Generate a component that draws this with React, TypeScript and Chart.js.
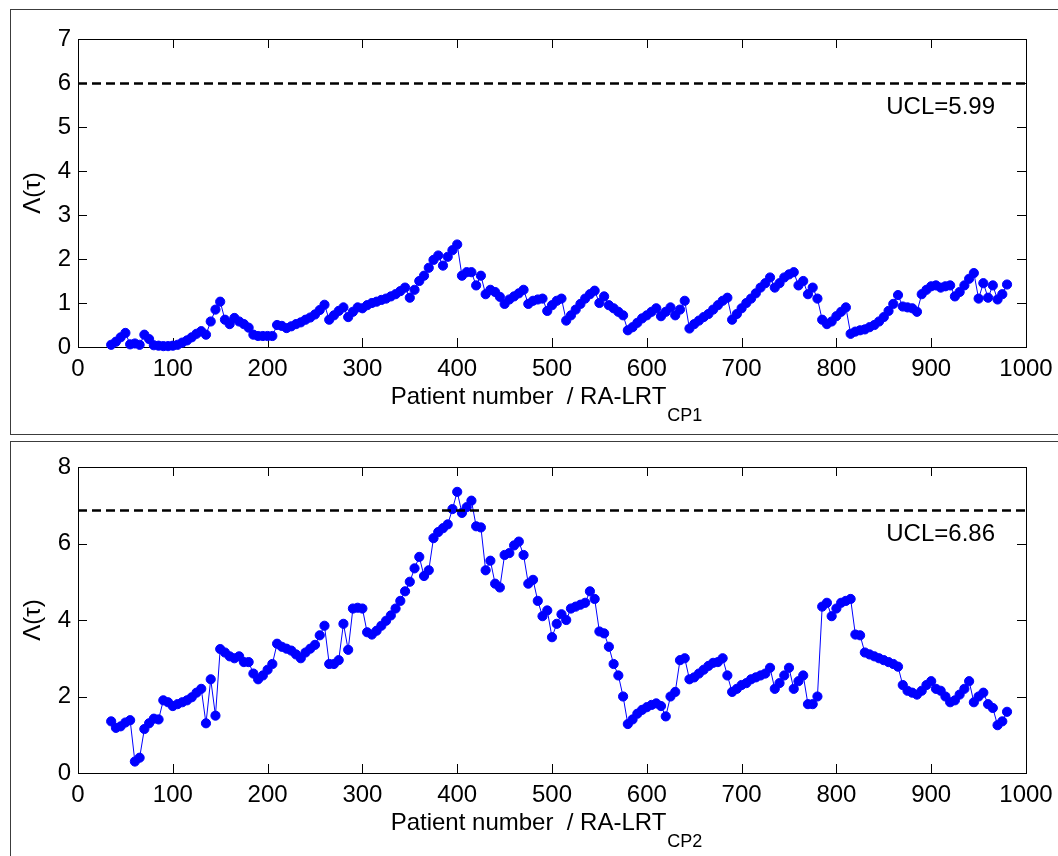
import React, { useEffect, useRef } from "react";
import { Chart, registerables } from "chart.js";

Chart.register(...registerables);

// Patient numbers: first plotted patient and spacing of read-off samples
const PATIENT_START = 35;
const PATIENT_STEP = 5;

// Λ(τ) for RA-LRT CP1 (top panel), patients 35..980 every 5
const LAMBDA_CP1 = [
  0.05, 0.12, 0.22, 0.32, 0.06, 0.08, 0.05, 0.28, 0.18, 0.04,
  0.03, 0.02, 0.02, 0.03, 0.05, 0.10, 0.15, 0.22, 0.30, 0.36,
  0.28, 0.58, 0.85, 1.03, 0.62, 0.52, 0.66, 0.58, 0.52, 0.44,
  0.28, 0.25, 0.25, 0.25, 0.25, 0.50, 0.48, 0.43, 0.47, 0.52,
  0.56, 0.62, 0.67, 0.74, 0.84, 0.96, 0.62, 0.72, 0.82, 0.90,
  0.68, 0.80, 0.90, 0.88, 0.95, 1.00, 1.03, 1.07, 1.10, 1.15,
  1.20, 1.27, 1.35, 1.12, 1.30, 1.50, 1.62, 1.80, 1.98, 2.08,
  1.85, 2.05, 2.20, 2.33, 1.62, 1.70, 1.70, 1.40, 1.62, 1.20,
  1.30, 1.25, 1.14, 0.98, 1.08, 1.15, 1.22, 1.30, 0.98, 1.05,
  1.08, 1.10, 0.82, 0.95, 1.05, 1.10, 0.60, 0.72, 0.85, 0.98,
  1.10, 1.20, 1.28, 1.00, 1.15, 0.95, 0.88, 0.80, 0.72, 0.38,
  0.45, 0.55, 0.65, 0.72, 0.80, 0.88, 0.70, 0.80, 0.90, 0.72,
  0.85, 1.05, 0.42, 0.52, 0.60, 0.68, 0.75, 0.85, 0.95, 1.05,
  1.12, 0.62, 0.75, 0.88, 1.00, 1.10, 1.22, 1.35, 1.45, 1.58,
  1.35, 1.45, 1.58, 1.65, 1.70, 1.40, 1.50, 1.20, 1.35, 1.10,
  0.62, 0.52, 0.58, 0.70, 0.80, 0.90, 0.30, 0.35, 0.38, 0.40,
  0.45, 0.50, 0.58, 0.68, 0.82, 0.98, 1.18, 0.92, 0.90, 0.88,
  0.80, 1.20, 1.30, 1.38, 1.40, 1.35, 1.38, 1.40, 1.15, 1.25,
  1.40, 1.55, 1.68, 1.10, 1.45, 1.12, 1.40, 1.08, 1.20, 1.42,
];

// Λ(τ) for RA-LRT CP2 (bottom panel), patients 35..980 every 5
const LAMBDA_CP2 = [
  1.35, 1.18, 1.22, 1.32, 1.38, 0.30, 0.40, 1.15, 1.30, 1.42,
  1.40, 1.90, 1.85, 1.75, 1.80, 1.85, 1.90, 1.98, 2.10, 2.20,
  1.30, 2.45, 1.50, 3.24, 3.15, 3.05, 3.00, 3.05, 2.90, 2.90,
  2.60, 2.45, 2.55, 2.70, 2.85, 3.38, 3.30, 3.25, 3.20, 3.10,
  3.00, 3.15, 3.25, 3.35, 3.60, 3.85, 2.85, 2.85, 2.95, 3.90,
  3.22, 4.30, 4.32, 4.30, 3.68, 3.62, 3.72, 3.85, 3.98, 4.12,
  4.30, 4.50, 4.75, 5.00, 5.35, 5.65, 5.15, 5.30, 6.14, 6.30,
  6.40, 6.50, 6.90, 7.35, 6.80, 6.95, 7.12, 6.45, 6.42, 5.30,
  5.55, 4.95, 4.85, 5.70, 5.75, 5.95, 6.05, 5.70, 4.95, 5.05,
  4.50, 4.10, 4.25, 3.55, 3.90, 4.15, 4.00, 4.30, 4.35, 4.40,
  4.45, 4.75, 4.55, 3.70, 3.65, 3.30, 2.85, 2.55, 2.00, 1.28,
  1.40, 1.55, 1.65, 1.72, 1.78, 1.82, 1.75, 1.48, 2.00, 2.12,
  2.95, 3.00, 2.45, 2.50, 2.60, 2.70, 2.80, 2.88, 2.90, 3.00,
  2.55, 2.12, 2.20, 2.30, 2.35, 2.45, 2.50, 2.55, 2.60, 2.75,
  2.20, 2.35, 2.55, 2.75, 2.20, 2.40, 2.55, 1.80, 1.80, 2.00,
  4.35, 4.45, 4.10, 4.30, 4.45, 4.50, 4.55, 3.62, 3.60, 3.15,
  3.10, 3.05, 3.00, 2.95, 2.90, 2.85, 2.78, 2.30, 2.15, 2.10,
  2.05, 2.15, 2.30, 2.40, 2.20, 2.15, 2.00, 1.85, 1.90, 2.05,
  2.20, 2.40, 1.85, 2.00, 2.10, 1.80, 1.70, 1.25, 1.35, 1.60,
];

const UCL_CP1 = 5.99;
const UCL_CP2 = 6.86;
const UCL_LABEL_CP1 = "UCL=5.99";
const UCL_LABEL_CP2 = "UCL=6.86";

const X_TICKS = [0, 100, 200, 300, 400, 500, 600, 700, 800, 900, 1000];
const Y_TICKS_CP1 = [0, 1, 2, 3, 4, 5, 6, 7];
const Y_TICKS_CP2 = [0, 2, 4, 6, 8];

const X_TITLE = "Patient number  / RA-LRT";
const X_SUB_CP1 = "CP1";
const X_SUB_CP2 = "CP2";
const Y_TITLE = "Λ(τ)";

const FONT = "'Liberation Sans', Arial, Helvetica, sans-serif";

type PanelProps = {
  values: number[];
  ucl: number;
  uclLabel: string;
  yTicks: number[];
  sub: string;
  width: number;
  height: number;
  padTop: number;
  padRight: number;
  yAxisWidth: number;
  xAxisHeight: number;
};

function Panel(p: PanelProps) {
  const ref = useRef<HTMLCanvasElement | null>(null);
  useEffect(() => {
    if (!ref.current) return;
    const pts = p.values.map((v, i) => ({ x: PATIENT_START + i * PATIENT_STEP, y: v }));
    const yMax = p.yTicks[p.yTicks.length - 1];
    const decor = {
      id: "decor",
      beforeDatasetsDraw(chart: any) {
        const { ctx, chartArea: a, scales } = chart;
        ctx.save();
        ctx.strokeStyle = "#000";
        ctx.lineWidth = 1;
        ctx.strokeRect(Math.round(a.left) + 0.5, Math.round(a.top) + 0.5, Math.round(a.right - a.left), Math.round(a.bottom - a.top));
        const tl = 9;
        ctx.beginPath();
        for (const v of X_TICKS) {
          const x = Math.round(scales.x.getPixelForValue(v)) + 0.5;
          ctx.moveTo(x, a.bottom);
          ctx.lineTo(x, a.bottom - tl);
          ctx.moveTo(x, a.top);
          ctx.lineTo(x, a.top + tl);
        }
        for (const v of p.yTicks) {
          const y = Math.round(scales.y.getPixelForValue(v)) + 0.5;
          ctx.moveTo(a.left, y);
          ctx.lineTo(a.left + tl, y);
          ctx.moveTo(a.right, y);
          ctx.lineTo(a.right - tl, y);
        }
        ctx.stroke();
        ctx.restore();
      },
      afterDraw(chart: any) {
        const { ctx, chartArea: a, scales } = chart;
        ctx.save();
        ctx.fillStyle = "#000";
        // UCL label
        ctx.font = `24px ${FONT}`;
        ctx.textAlign = "right";
        ctx.textBaseline = "middle";
        ctx.fillText(p.uclLabel, a.right - 31, scales.y.getPixelForValue(p.ucl) + 24);
        // x title with subscript
        ctx.textAlign = "left";
        ctx.textBaseline = "alphabetic";
        ctx.font = `24px ${FONT}`;
        const w1 = ctx.measureText(X_TITLE).width;
        ctx.font = `18px ${FONT}`;
        const w2 = ctx.measureText(p.sub).width;
        const cx = (a.left + a.right) / 2 - 6;
        const x0 = cx - (w1 + w2) / 2;
        ctx.font = `24px ${FONT}`;
        ctx.fillText(X_TITLE, x0, a.bottom + 57);
        ctx.font = `18px ${FONT}`;
        ctx.fillText(p.sub, x0 + w1 + 1, a.bottom + 74);
        // y title
        ctx.translate(22, (a.top + a.bottom) / 2);
        ctx.rotate(-Math.PI / 2);
        ctx.font = `24px ${FONT}`;
        ctx.textAlign = "center";
        ctx.textBaseline = "middle";
        ctx.fillText(Y_TITLE, 0, 0);
        ctx.restore();
      },
    };
    const chart = new Chart(ref.current, {
      type: "line",
      data: {
        datasets: [
          {
            data: pts,
            borderColor: "#0000ff",
            backgroundColor: "#0000ff",
            borderWidth: 1,
            pointRadius: 4.6,
            pointBorderWidth: 1,
            pointBorderColor: "#0000ff",
            pointBackgroundColor: "#0000ff",
            clip: false,
            order: 1,
          } as any,
          {
            data: [
              { x: 0, y: p.ucl },
              { x: 1000, y: p.ucl },
            ],
            borderColor: "#000",
            borderWidth: 2.5,
            borderDash: [9, 5],
            pointRadius: 0,
            order: 0,
          } as any,
        ],
      },
      options: {
        animation: false,
        responsive: false,
        maintainAspectRatio: false,
        devicePixelRatio: 1,
        events: [],
        layout: { padding: { left: 0, top: p.padTop, right: p.padRight, bottom: 0 } },
        plugins: { legend: { display: false }, tooltip: { enabled: false } },
        scales: {
          x: {
            type: "linear",
            min: 0,
            max: 1000,
            afterBuildTicks: (s: any) => {
              s.ticks = X_TICKS.map((v) => ({ value: v }));
            },
            afterFit: (s: any) => {
              s.height = p.xAxisHeight;
              s.paddingLeft = 0;
              s.paddingRight = 0;
            },
            grid: { display: false, drawTicks: false },
            border: { display: false },
            ticks: {
              color: "#000",
              font: { family: FONT, size: 24 },
              padding: 8,
              maxRotation: 0,
              autoSkip: false,
              callback: (v: any) => String(v),
            },
          },
          y: {
            type: "linear",
            min: 0,
            max: yMax,
            afterBuildTicks: (s: any) => {
              s.ticks = p.yTicks.map((v) => ({ value: v }));
            },
            afterFit: (s: any) => {
              s.width = p.yAxisWidth;
              s.paddingTop = 0;
              s.paddingBottom = 0;
            },
            grid: { display: false, drawTicks: false },
            border: { display: false },
            ticks: {
              color: "#000",
              font: { family: FONT, size: 24 },
              padding: 7,
              autoSkip: false,
              callback: (v: any) => String(v),
            },
          },
        },
      } as any,
      plugins: [decor],
    });
    return () => chart.destroy();
  }, []);
  return <canvas ref={ref} width={p.width} height={p.height} style={{ width: p.width, height: p.height, display: "block" }} />;
}

export default function App() {
  const boxBorder = "1px solid #3c3c3c";
  return (
    <div style={{ position: "fixed", left: 0, top: 0, width: 1058, height: 856, overflow: "hidden", background: "#fff" }}>
      <div style={{ position: "absolute", left: 10, top: 9, width: 1070, height: 424, border: boxBorder }}>
        <div style={{ position: "absolute", left: 0, top: 0 }}>
          <Panel
            values={LAMBDA_CP1}
            ucl={UCL_CP1}
            uclLabel={UCL_LABEL_CP1}
            yTicks={Y_TICKS_CP1}
            sub={X_SUB_CP1}
            width={1047}
            height={423}
            padTop={29}
            padRight={32}
            yAxisWidth={67}
            xAxisHeight={86}
          />
        </div>
      </div>
      <div style={{ position: "absolute", left: 10, top: 441, width: 1070, height: 500, border: boxBorder }}>
        <div style={{ position: "absolute", left: 0, top: 0 }}>
          <Panel
            values={LAMBDA_CP2}
            ucl={UCL_CP2}
            uclLabel={UCL_LABEL_CP2}
            yTicks={Y_TICKS_CP2}
            sub={X_SUB_CP2}
            width={1047}
            height={414}
            padTop={25}
            padRight={32}
            yAxisWidth={67}
            xAxisHeight={83}
          />
        </div>
      </div>
    </div>
  );
}
